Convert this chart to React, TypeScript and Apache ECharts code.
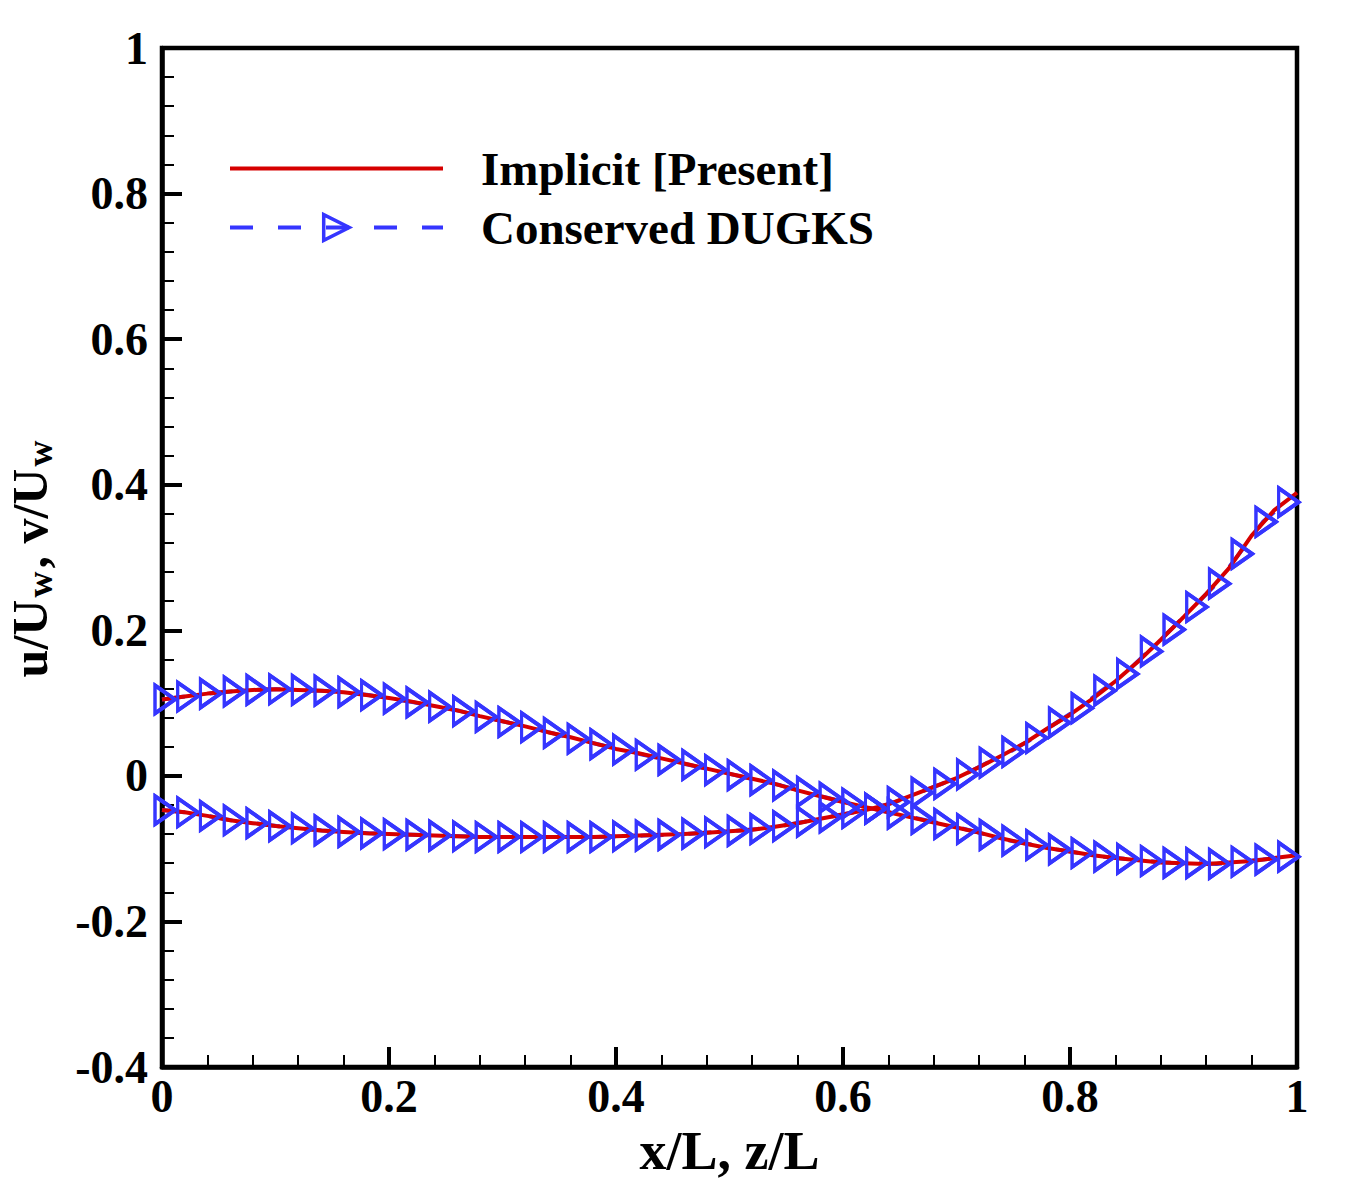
import React, { useEffect, useRef } from "react";
import * as echarts from "echarts";

// ---------- data ----------
// x/L positions of the implicit (present) solution
const xPresent = [
  0, 0.02, 0.04, 0.06, 0.08, 0.1, 0.12, 0.14, 0.16, 0.18, 0.2, 0.22, 0.24, 0.26, 0.28, 0.3, 0.32,
  0.34, 0.36, 0.38, 0.4, 0.42, 0.44, 0.46, 0.48, 0.5, 0.52, 0.54, 0.56, 0.58, 0.6, 0.62, 0.64, 0.66,
  0.68, 0.7, 0.72, 0.74, 0.76, 0.78, 0.8, 0.82, 0.84, 0.86, 0.88, 0.9, 0.92, 0.94, 0.96, 0.98, 1.0,
];
// profile starting at +0.105
const uPresent = [
  0.105, 0.109, 0.113, 0.116, 0.118, 0.119, 0.118, 0.117, 0.115, 0.111, 0.107, 0.102, 0.096, 0.09,
  0.082, 0.075, 0.068, 0.06, 0.053, 0.045, 0.037, 0.031, 0.024, 0.017, 0.01, 0.003, -0.004, -0.011,
  -0.02, -0.028, -0.036, -0.043, -0.05, -0.057, -0.064, -0.071, -0.078, -0.086, -0.093, -0.099,
  -0.104, -0.109, -0.113, -0.116, -0.119, -0.12, -0.121, -0.119, -0.117, -0.113, -0.109,
];
// profile starting at -0.047
const vPresent = [
  -0.047, -0.05, -0.055, -0.061, -0.065, -0.069, -0.072, -0.075, -0.077, -0.079, -0.08, -0.081,
  -0.082, -0.083, -0.084, -0.084, -0.084, -0.084, -0.084, -0.084, -0.083, -0.082, -0.081, -0.08,
  -0.078, -0.076, -0.074, -0.07, -0.065, -0.059, -0.053, -0.047, -0.039, -0.027, -0.015, -0.003,
  0.012, 0.028, 0.045, 0.065, 0.084, 0.106, 0.13, 0.157, 0.187, 0.218, 0.25, 0.285, 0.33, 0.365,
  0.389,
];

// x/L positions of the conserved DUGKS samples
const xDugks = [
  0, 0.02, 0.04, 0.061, 0.081, 0.101, 0.121, 0.141, 0.162, 0.182, 0.202, 0.222, 0.242, 0.263,
  0.283, 0.303, 0.323, 0.343, 0.364, 0.384, 0.404, 0.424, 0.444, 0.465, 0.485, 0.505, 0.525,
  0.545, 0.566, 0.586, 0.606, 0.626, 0.646, 0.667, 0.687, 0.707, 0.727, 0.747, 0.768, 0.788,
  0.808, 0.828, 0.848, 0.869, 0.889, 0.909, 0.929, 0.949, 0.97, 0.99,
];
const uDugks = [
  0.105, 0.109, 0.113, 0.116, 0.118, 0.119, 0.118, 0.117, 0.115, 0.111, 0.106, 0.101, 0.095, 0.089,
  0.081, 0.074, 0.067, 0.059, 0.051, 0.0435, 0.036, 0.029, 0.022, 0.015, 0.008, 0.001, -0.006,
  -0.013, -0.022, -0.03, -0.038, -0.045, -0.052, -0.059, -0.066, -0.073, -0.081, -0.089, -0.095,
  -0.101, -0.106, -0.111, -0.114, -0.117, -0.1195, -0.12, -0.121, -0.118, -0.115, -0.111,
];
const vDugks = [
  -0.047, -0.05, -0.055, -0.061, -0.065, -0.069, -0.072, -0.075, -0.077, -0.079, -0.08, -0.081,
  -0.082, -0.083, -0.084, -0.084, -0.084, -0.084, -0.084, -0.084, -0.083, -0.082, -0.081, -0.0795,
  -0.0775, -0.0755, -0.073, -0.069, -0.063, -0.057, -0.051, -0.045, -0.036, -0.023, -0.011, 0.002,
  0.018, 0.033, 0.052, 0.073, 0.093, 0.117, 0.14, 0.171, 0.201, 0.232, 0.264, 0.305, 0.349, 0.376,
];

const xTickLabels = ["0", "0.2", "0.4", "0.6", "0.8", "1"];
const yTickLabels = ["-0.4", "-0.2", "0", "0.2", "0.4", "0.6", "0.8", "1"];

const NAME_PRESENT = "Implicit [Present]";
const NAME_DUGKS = "Conserved DUGKS";

// ---------- styles ----------
const FONT = "'Liberation Serif', 'Times New Roman', Times, serif";
const RED = "#d60000";
const BLUE = "#3535ff";

const pair = (xs: number[], ys: number[]) => xs.map((x, i) => [x, ys[i]]);

export default function App() {
  const ref = useRef<HTMLDivElement>(null);

  useEffect(() => {
    if (!ref.current) return;
    const chart = echarts.init(ref.current, undefined, { renderer: "svg" });

    const markerCommon = {
      symbol: "triangle",
      symbolRotate: -90,
      symbolSize: [28, 20],
      symbolOffset: [3, 0],
      itemStyle: { color: "rgba(0,0,0,0)", borderColor: BLUE, borderWidth: 3.5 },
    };

    const dashedSeries = (data: number[][]) => ({
      type: "line",
      name: NAME_DUGKS,
      data,
      z: 2,
      ...markerCommon,
      lineStyle: { color: BLUE, width: 4, type: [23, 25] },
    });
    const markerSeries = (data: number[][]) => ({
      type: "line",
      name: NAME_DUGKS,
      data,
      z: 4,
      ...markerCommon,
      lineStyle: { color: BLUE, width: 0, opacity: 0 },
    });
    const presentSeries = (data: number[][]) => ({
      type: "line",
      name: NAME_PRESENT,
      data,
      z: 3,
      symbol: "none",
      itemStyle: { color: RED },
      lineStyle: { color: RED, width: 4 },
    });

    const tickLabelStyle = {
      color: "#000",
      fontFamily: FONT,
      fontWeight: "bold",
      fontSize: 46,
    };

    chart.setOption({
      animation: false,
      backgroundColor: "#fff",
      grid: {
        left: 162,
        top: 48,
        width: 1135,
        height: 1019,
        containLabel: false,
        outerBoundsMode: "none",
        show: true,
        borderColor: "#000",
        borderWidth: 4.5,
        backgroundColor: "rgba(0,0,0,0)",
      },
      legend: {
        orient: "vertical",
        left: 228,
        top: 145,
        padding: 0,
        itemWidth: 213,
        itemHeight: 32,
        itemGap: 12,
        selectedMode: false,
        data: [
          {
            name: NAME_PRESENT,
            itemStyle: { color: "rgba(0,0,0,0)", borderWidth: 0 },
            lineStyle: { color: RED, width: 4, type: "solid" },
          },
          {
            name: NAME_DUGKS,
            itemStyle: { color: "rgba(0,0,0,0)", borderColor: BLUE, borderWidth: 3.5 },
            lineStyle: { color: BLUE, width: 4, type: [23, 25] },
          },
        ],
        textStyle: {
          color: "#000",
          fontFamily: FONT,
          fontWeight: "bold",
          fontSize: 47,
          padding: [0, 0, 0, 33],
        },
      },
      xAxis: {
        type: "value",
        min: 0,
        max: 1,
        interval: 0.2,
        name: "x/L, z/L",
        nameLocation: "middle",
        nameGap: 51,
        nameTextStyle: { color: "#000", fontFamily: FONT, fontWeight: "bold", fontSize: 54 },
        axisLine: { show: true, onZero: false, lineStyle: { color: "#000", width: 4.5 } },
        axisTick: { show: true, inside: true, length: 20, lineStyle: { color: "#000", width: 4 } },
        minorTick: { show: true, splitNumber: 5, length: 12, lineStyle: { color: "#000", width: 2 } },
        splitLine: { show: false },
        axisLabel: {
          ...tickLabelStyle,
          margin: 6,
          showMinLabel: true,
          showMaxLabel: true,
          formatter: (v: number) => xTickLabels[Math.round(v / 0.2)] ?? "",
        },
      },
      yAxis: {
        type: "value",
        min: -0.4,
        max: 1,
        interval: 0.2,
        name: "{m|u/U}{s|w}{m|, v/U}{s|w}",
        nameLocation: "middle",
        nameRotate: 90,
        nameGap: 104,
        nameTextStyle: {
          color: "#000",
          fontFamily: FONT,
          fontWeight: "bold",
          fontSize: 50,
          rich: {
            m: { fontFamily: FONT, fontWeight: "bold", fontSize: 50, lineHeight: 56, color: "#000" },
            s: {
              fontFamily: FONT,
              fontWeight: "bold",
              fontSize: 36,
              lineHeight: 40,
              verticalAlign: "bottom",
              padding: [0, 3, 0, 2],
              color: "#000",
            },
          },
        },
        axisLine: { show: true, onZero: false, lineStyle: { color: "#000", width: 4.5 } },
        axisTick: { show: true, inside: true, length: 20, lineStyle: { color: "#000", width: 4 } },
        minorTick: { show: true, splitNumber: 5, length: 12, lineStyle: { color: "#000", width: 2 } },
        splitLine: { show: false },
        axisLabel: {
          ...tickLabelStyle,
          margin: 14,
          showMinLabel: true,
          showMaxLabel: true,
          formatter: (v: number) => yTickLabels[Math.round((v + 0.4) / 0.2)] ?? "",
        },
      },
      series: [
        dashedSeries(pair(xDugks, uDugks)),
        dashedSeries(pair(xDugks, vDugks)),
        presentSeries(pair(xPresent, uPresent)),
        presentSeries(pair(xPresent, vPresent)),
        markerSeries(pair(xDugks, uDugks)),
        markerSeries(pair(xDugks, vDugks)),
      ],
    });

    return () => chart.dispose();
  }, []);

  return (
    <div
      ref={ref}
      style={{ position: "fixed", left: 0, top: 0, width: 1351, height: 1200, background: "#fff" }}
    />
  );
}
